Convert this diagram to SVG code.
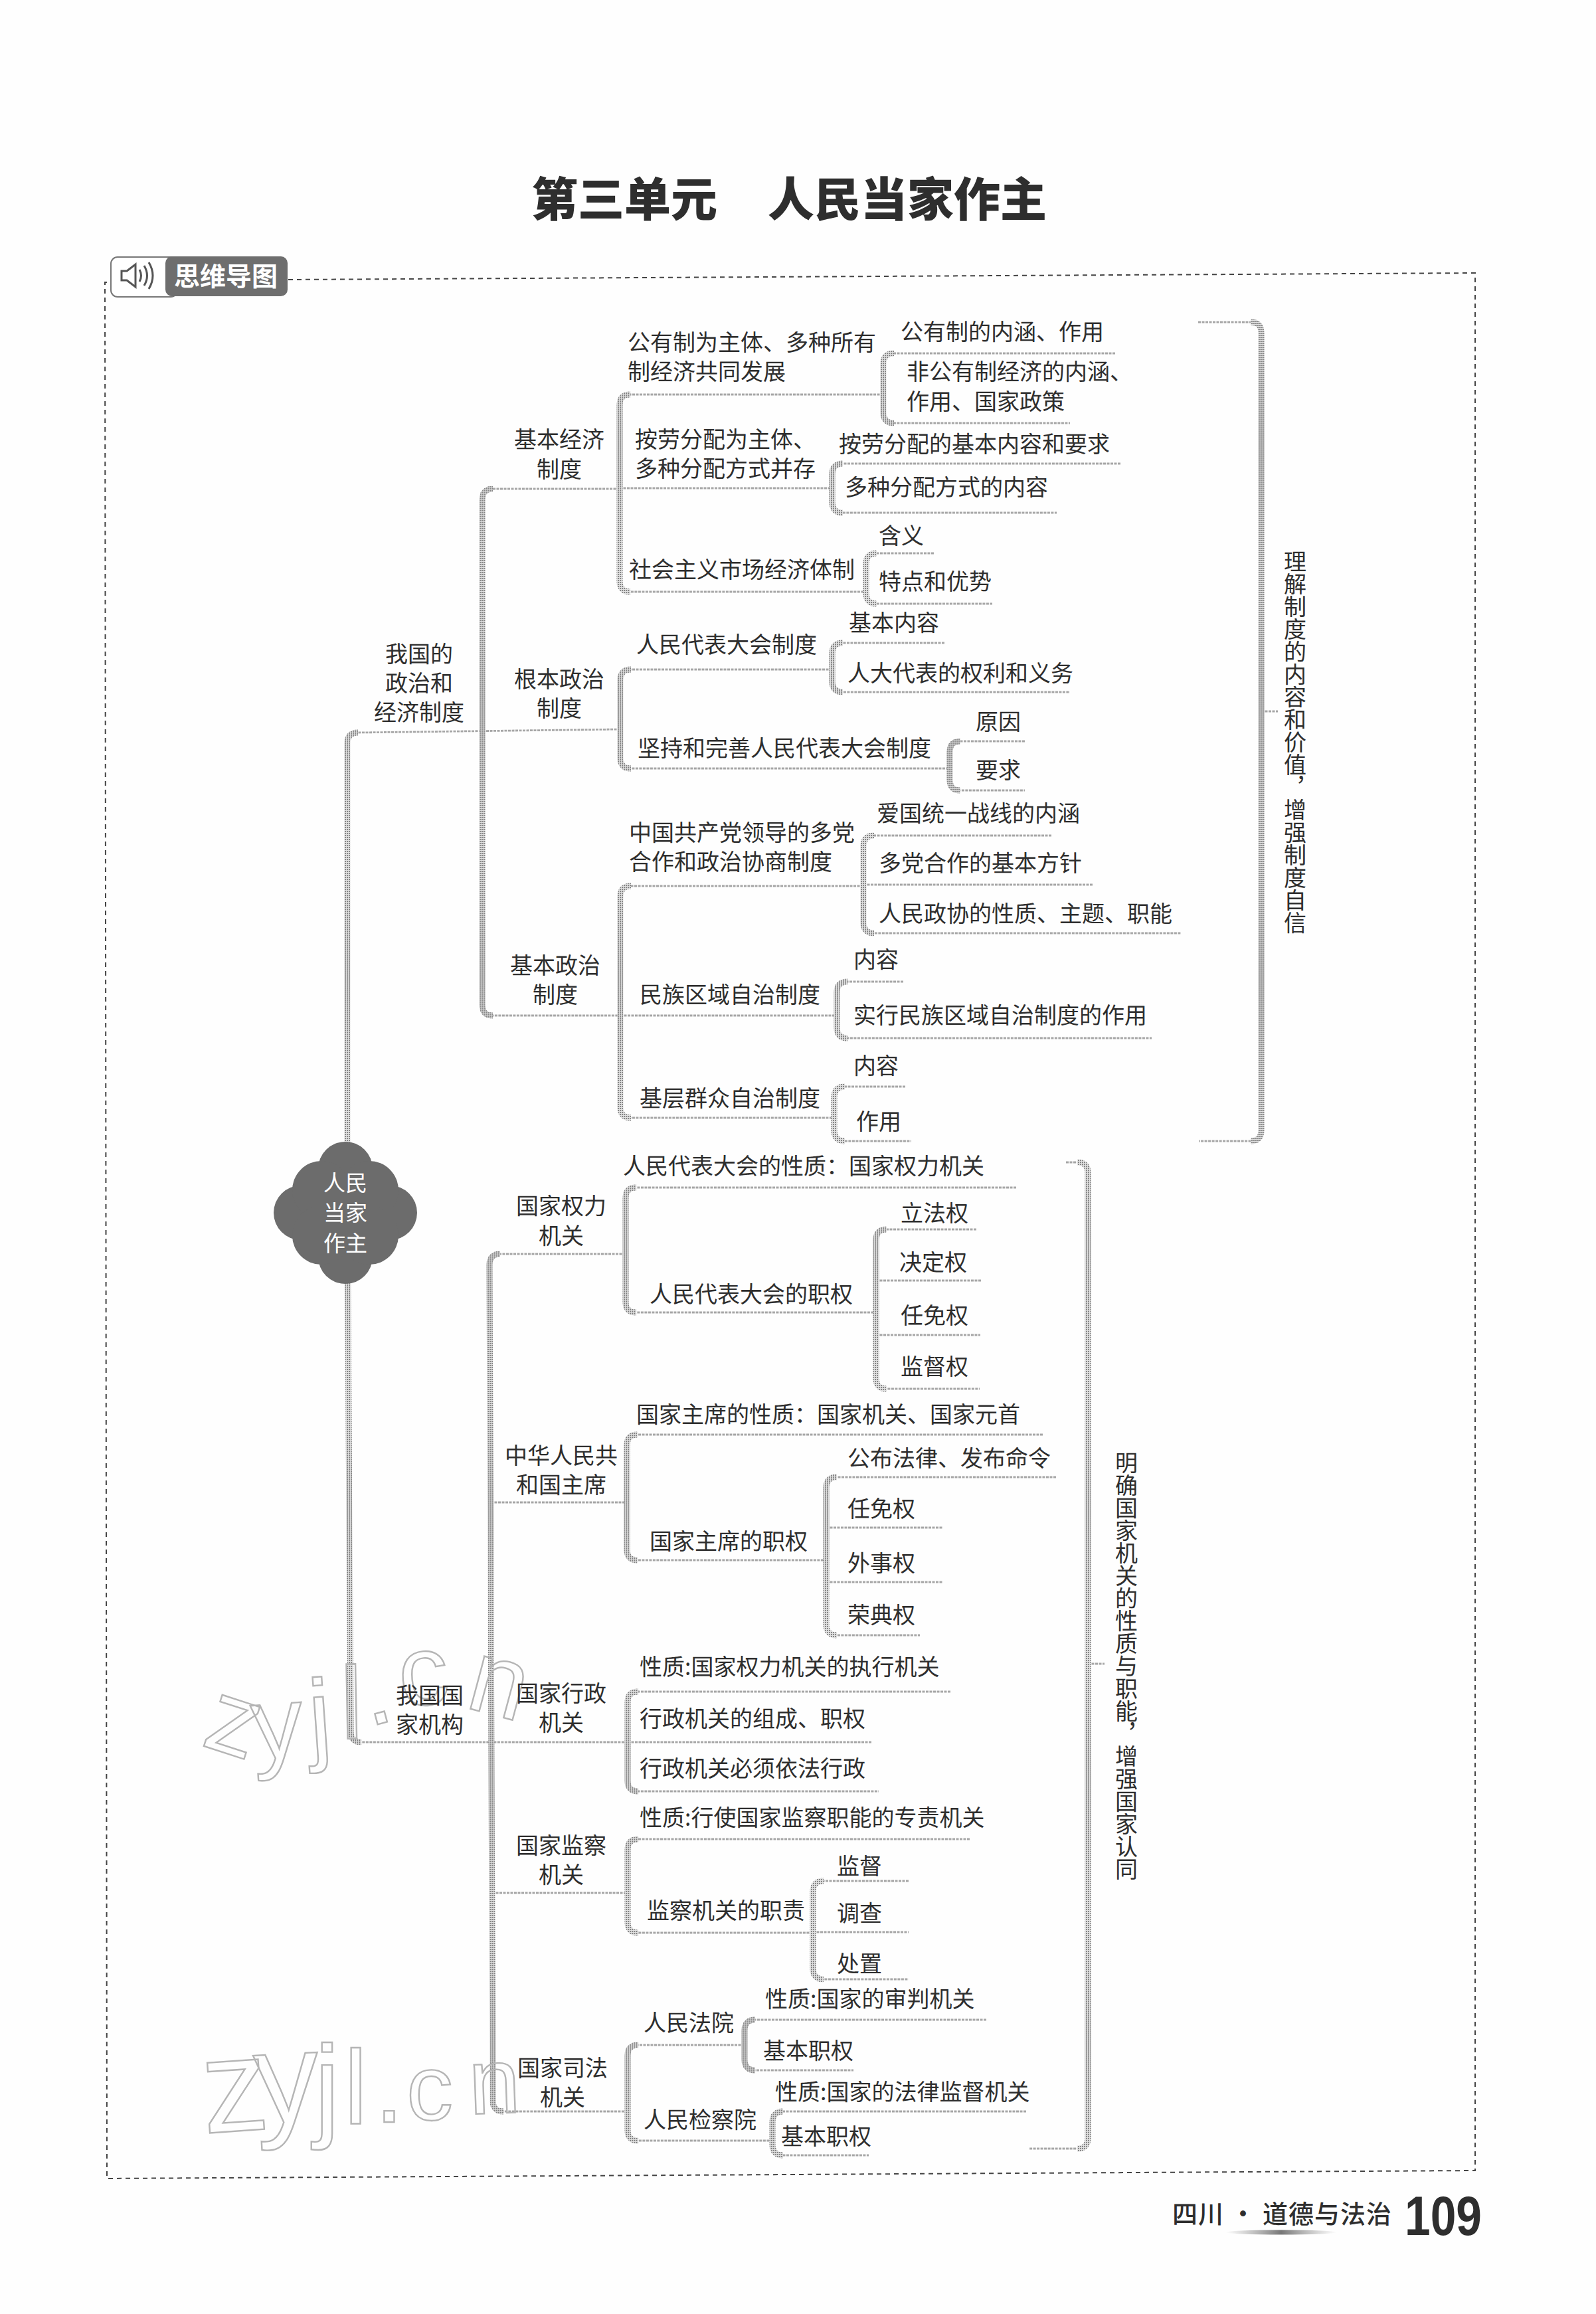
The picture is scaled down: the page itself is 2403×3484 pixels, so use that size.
<svg xmlns="http://www.w3.org/2000/svg" width="2403" height="3484" viewBox="0 0 2403 3484">
<style>
text{font-family:"Noto Sans CJK SC","Noto Sans",sans-serif;fill:#2e2e2e}
.t{font-size:34px}
.c{font-size:34px;text-anchor:middle}
.v{font-size:34px;writing-mode:vertical-rl}
.w{font-size:33px;fill:#fff;text-anchor:middle}
.thin{fill:none;stroke:#a6a6a6;stroke-width:2.8;stroke-dasharray:4 1.5}
.thick{fill:none;stroke:url(#ht);stroke-width:9}
.frame{fill:none;stroke:#444;stroke-width:2;stroke-dasharray:7 6}
text.wm{font-family:"Liberation Sans",sans-serif;fill:none;stroke:#b5b5b5;stroke-width:2.4}
</style>
<defs>
<pattern id="ht" width="3" height="3" patternUnits="userSpaceOnUse"><rect width="3" height="3" fill="#e0e0e0"/><rect width="2" height="2" fill="#888"/></pattern>
<linearGradient id="sw"><stop offset="0" stop-color="#999" stop-opacity="0"/><stop offset=".5" stop-color="#777"/><stop offset="1" stop-color="#999" stop-opacity="0"/></linearGradient>
</defs>
<rect width="2403" height="3484" fill="#fefefe"/>

<g id="frame">
<path class="frame" d="M434 421 L2221 411 V3268 L161 3280 L158 425 H167"/>
</g>

<g id="connectors">
<!-- trunk -->
<path class="thin" d="M934 1098 L539 1103 Q523 1103 523 1119 V1826 L528 2607 Q528 2623 544 2623 H945"/>
<path class="thick" d="M539 1103 Q523 1103 523 1119 V1826 L528 2607 Q528 2623 544 2623"/>
<!-- upper level 2 -->
<path class="thin" d="M933 736 H742 Q726 736 726 752 V1513 Q726 1529 742 1529 H934"/>
<path class="thick" d="M742 736 Q726 736 726 752 V1513 Q726 1529 742 1529"/>
<!-- A -->
<path class="thin" d="M1330 594 H949 Q933 594 933 610 V875 Q933 891 949 891 H1304 M933 735 H1253"/>
<path class="thick" d="M949 594 Q933 594 933 610 V875 Q933 891 949 891"/>
<path class="thin" d="M1679 532 H1346 Q1330 532 1330 548 V621 Q1330 637 1346 637 H1611"/>
<path class="thick" d="M1346 532 Q1330 532 1330 548 V621 Q1330 637 1346 637"/>
<path class="thin" d="M1687 698 H1269 Q1253 698 1253 714 V756 Q1253 772 1269 772 H1591"/>
<path class="thick" d="M1269 698 Q1253 698 1253 714 V756 Q1253 772 1269 772"/>
<path class="thin" d="M1406 833 H1320 Q1304 833 1304 849 V893 Q1304 909 1320 909 H1494"/>
<path class="thick" d="M1320 833 Q1304 833 1304 849 V893 Q1304 909 1320 909"/>
<!-- D -->
<path class="thin" d="M1253 1008 H950 Q934 1008 934 1024 V1141 Q934 1157 950 1157 H1430"/>
<path class="thick" d="M950 1008 Q934 1008 934 1024 V1141 Q934 1157 950 1157"/>
<path class="thin" d="M1422 968 H1269 Q1253 968 1253 984 V1026 Q1253 1042 1269 1042 H1611"/>
<path class="thick" d="M1269 968 Q1253 968 1253 984 V1026 Q1253 1042 1269 1042"/>
<path class="thin" d="M1543 1116 H1446 Q1430 1116 1430 1132 V1174 Q1430 1190 1446 1190 H1543"/>
<path class="thick" d="M1446 1116 Q1430 1116 1430 1132 V1174 Q1430 1190 1446 1190"/>
<!-- E -->
<path class="thin" d="M1300 1334 H950 Q934 1334 934 1350 V1667 Q934 1683 950 1683 H1256 M934 1529 H1260"/>
<path class="thick" d="M950 1334 Q934 1334 934 1350 V1667 Q934 1683 950 1683"/>
<path class="thin" d="M1583 1258 H1316 Q1300 1258 1300 1274 V1389 Q1300 1405 1316 1405 H1778 M1300 1332 H1645"/>
<path class="thick" d="M1316 1258 Q1300 1258 1300 1274 V1389 Q1300 1405 1316 1405"/>
<path class="thin" d="M1360 1478 H1276 Q1260 1478 1260 1494 V1547 Q1260 1563 1276 1563 H1734"/>
<path class="thick" d="M1276 1478 Q1260 1478 1260 1494 V1547 Q1260 1563 1276 1563"/>
<path class="thin" d="M1363 1636 H1272 Q1256 1636 1256 1652 V1702 Q1256 1718 1272 1718 H1372"/>
<path class="thick" d="M1272 1636 Q1256 1636 1256 1652 V1702 Q1256 1718 1272 1718"/>
<!-- right bracket 1 -->
<path class="thin" d="M1804 485 H1883 Q1899 485 1899 501 V1702 Q1899 1718 1883 1718 H1805 M1899 1071 H1924"/>
<path class="thick" d="M1883 485 Q1899 485 1899 501 V1702 Q1899 1718 1883 1718"/>
<!-- lower level 2 -->
<path class="thin" d="M942 1888 H753 Q737 1888 737 1904 L742 3163 Q742 3179 758 3179 H945 M739 2262 H944 M741 2850 H945"/>
<path class="thick" d="M753 1888 Q737 1888 737 1904 L742 3163 Q742 3179 758 3179"/>
<!-- F -->
<path class="thin" d="M1530 1788 H958 Q942 1788 942 1804 V1960 Q942 1976 958 1976 H1319"/>
<path class="thick" d="M958 1788 Q942 1788 942 1804 V1960 Q942 1976 958 1976"/>
<path class="thin" d="M1470 1851 H1335 Q1319 1851 1319 1867 V2075 Q1319 2091 1335 2091 H1475 M1319 1928 H1478 M1319 2010 H1476"/>
<path class="thick" d="M1335 1851 Q1319 1851 1319 1867 V2075 Q1319 2091 1335 2091"/>
<!-- G -->
<path class="thin" d="M1570 2160 H960 Q944 2160 944 2176 V2333 Q944 2349 960 2349 H1244"/>
<path class="thick" d="M960 2160 Q944 2160 944 2176 V2333 Q944 2349 960 2349"/>
<path class="thin" d="M1590 2224 H1260 Q1244 2224 1244 2240 V2446 Q1244 2462 1260 2462 H1385 M1244 2300 H1420 M1244 2382 H1420"/>
<path class="thick" d="M1260 2224 Q1244 2224 1244 2240 V2446 Q1244 2462 1260 2462"/>
<!-- H -->
<path class="thin" d="M1431 2547 H961 Q945 2547 945 2563 V2681 Q945 2697 961 2697 H1323 M945 2623 H1312"/>
<path class="thick" d="M961 2547 Q945 2547 945 2563 V2681 Q945 2697 961 2697"/>
<!-- I -->
<path class="thin" d="M1460 2769 H961 Q945 2769 945 2785 V2894 Q945 2910 961 2910 H1224"/>
<path class="thick" d="M961 2769 Q945 2769 945 2785 V2894 Q945 2910 961 2910"/>
<path class="thin" d="M1368 2832 H1240 Q1224 2832 1224 2848 V2964 Q1224 2980 1240 2980 H1368 M1224 2909 H1368"/>
<path class="thick" d="M1240 2832 Q1224 2832 1224 2848 V2964 Q1224 2980 1240 2980"/>
<!-- J -->
<path class="thin" d="M1121 3079 H961 Q945 3079 945 3095 V3207 Q945 3223 961 3223 H1163"/>
<path class="thick" d="M961 3079 Q945 3079 945 3095 V3207 Q945 3223 961 3223"/>
<path class="thin" d="M1485 3041 H1137 Q1121 3041 1121 3057 V3101 Q1121 3117 1137 3117 H1285"/>
<path class="thick" d="M1137 3041 Q1121 3041 1121 3057 V3101 Q1121 3117 1137 3117"/>
<path class="thin" d="M1545 3179 H1179 Q1163 3179 1163 3195 V3229 Q1163 3245 1179 3245 H1308"/>
<path class="thick" d="M1179 3179 Q1163 3179 1163 3195 V3229 Q1163 3245 1179 3245"/>
<!-- right bracket 2 -->
<path class="thin" d="M1605 1750 H1622 Q1638 1750 1638 1766 V3219 Q1638 3235 1622 3235 H1549 M1638 2505 H1663"/>
<path class="thick" d="M1622 1750 Q1638 1750 1638 1766 V3219 Q1638 3235 1622 3235"/>
</g>

<g id="watermark">
<text class="wm" font-size="155"><tspan x="301" y="2627" rotate="18">z</tspan><tspan x="382" y="2650" rotate="-4">y</tspan><tspan x="468" y="2638" rotate="-4">j</tspan><tspan x="513" y="2618" rotate="-1">l</tspan><tspan x="555" y="2600" rotate="-15">.</tspan><tspan x="604" y="2570" rotate="-5" font-size="150">c</tspan><tspan x="698" y="2570" rotate="15">n</tspan></text>
<text class="wm" font-size="158"><tspan x="308" y="3212" rotate="-4" font-size="200">z</tspan><tspan x="386" y="3198" rotate="-3" font-size="195">y</tspan><tspan x="473" y="3201" font-size="175">j</tspan><tspan x="518" y="3197">l</tspan><tspan x="564" y="3195">.</tspan><tspan x="612" y="3192" font-size="140">c</tspan><tspan x="707" y="3183" rotate="-2" font-size="140">n</tspan></text>
</g>

<g id="title"><text x="800" y="326" font-size="70" font-weight="900">第三单元</text><text x="1156" y="326" font-size="70" font-weight="900">人民当家作主</text></g>

<g id="tag">
<rect x="167" y="387" width="100" height="60" rx="10" fill="#fff" stroke="#777" stroke-width="2"/>
<rect x="249" y="386" width="184" height="60" rx="10" fill="#6e6e6e"/>
<path d="M183 408 h8 l13 -10 v34 l-13 -10 h-8 z" fill="#fff" stroke="#555" stroke-width="3"/>
<path d="M210 406 q5 9 0 18 M217 400 q9 15 0 30 M224 395 q12 20 0 40" fill="none" stroke="#555" stroke-width="3"/>
<text x="262" y="430" font-size="39" font-weight="700" style="fill:#fff">思维导图</text>
</g>

<g id="root">
<g fill="#6c6c6c"><circle cx="520" cy="1760" r="41"/><circle cx="520" cy="1892" r="41"/><circle cx="453" cy="1826" r="41"/><circle cx="587" cy="1826" r="41"/><circle cx="484" cy="1792" r="44"/><circle cx="556" cy="1792" r="44"/><circle cx="484" cy="1860" r="44"/><circle cx="556" cy="1860" r="44"/><rect x="470" y="1770" width="100" height="112"/></g>
<text class="w" x="520" y="1793">人民</text><text class="w" x="520" y="1838">当家</text><text class="w" x="520" y="1884">作主</text>
</g>

<g id="n1"><text class="c" x="631" y="997">我国的</text><text class="c" x="631" y="1041">政治和</text><text class="c" x="631" y="1085">经济制度</text></g>
<g id="n2"><text class="c" x="842" y="674">基本经济</text><text class="c" x="842" y="719">制度</text></g>
<g id="n3"><text class="t" x="945" y="528">公有制为主体、多种所有</text><text class="t" x="945" y="572">制经济共同发展</text></g>
<g id="n4"><text class="t" x="1356" y="512">公有制的内涵、作用</text></g>
<g id="n5"><text class="t" x="1365" y="572">非公有制经济的内涵、</text><text class="t" x="1365" y="617">作用、国家政策</text></g>
<g id="n6"><text class="t" x="956" y="674">按劳分配为主体、</text><text class="t" x="956" y="718">多种分配方式并存</text></g>
<g id="n7"><text class="t" x="1263" y="681">按劳分配的基本内容和要求</text></g>
<g id="n8"><text class="t" x="1272" y="746">多种分配方式的内容</text></g>
<g id="n9"><text class="t" x="1323" y="819">含义</text></g>
<g id="n10"><text class="t" x="1323" y="888">特点和优势</text></g>
<g id="n11"><text class="t" x="947" y="870">社会主义市场经济体制</text></g>
<g id="n12"><text class="c" x="842" y="1035">根本政治</text><text class="c" x="842" y="1079">制度</text></g>
<g id="n13"><text class="t" x="958" y="983">人民代表大会制度</text></g>
<g id="n14"><text class="t" x="1278" y="950">基本内容</text></g>
<g id="n15"><text class="t" x="1276" y="1026">人大代表的权利和义务</text></g>
<g id="n16"><text class="t" x="960" y="1139">坚持和完善人民代表大会制度</text></g>
<g id="n17"><text class="t" x="1469" y="1099">原因</text></g>
<g id="n18"><text class="t" x="1469" y="1172">要求</text></g>
<g id="n19"><text class="t" x="947" y="1266">中国共产党领导的多党</text><text class="t" x="947" y="1310">合作和政治协商制度</text></g>
<g id="n20"><text class="t" x="1320" y="1237">爱国统一战线的内涵</text></g>
<g id="n21"><text class="t" x="1323" y="1312">多党合作的基本方针</text></g>
<g id="n22"><text class="t" x="1323" y="1388">人民政协的性质、主题、职能</text></g>
<g id="n23"><text class="c" x="836" y="1466">基本政治</text><text class="c" x="836" y="1510">制度</text></g>
<g id="n24"><text class="t" x="963" y="1510">民族区域自治制度</text></g>
<g id="n25"><text class="t" x="1285" y="1457">内容</text></g>
<g id="n26"><text class="t" x="1285" y="1541">实行民族区域自治制度的作用</text></g>
<g id="n27"><text class="t" x="963" y="1666">基层群众自治制度</text></g>
<g id="n28"><text class="t" x="1285" y="1617">内容</text></g>
<g id="n29"><text class="t" x="1289" y="1701">作用</text></g>
<g id="n30"><text class="v" x="1950" y="828">理解制度的内容和价值，增强制度自信</text></g>
<g id="n31"><text class="t" x="938" y="1768">人民代表大会的性质：国家权力机关</text></g>
<g id="n32"><text class="c" x="845" y="1828">国家权力</text><text class="c" x="845" y="1873">机关</text></g>
<g id="n33"><text class="t" x="978" y="1961">人民代表大会的职权</text></g>
<g id="n34"><text class="t" x="1356" y="1839">立法权</text></g>
<g id="n35"><text class="t" x="1354" y="1913">决定权</text></g>
<g id="n36"><text class="t" x="1356" y="1993">任免权</text></g>
<g id="n37"><text class="t" x="1356" y="2070">监督权</text></g>
<g id="n38"><text class="t" x="958" y="2142">国家主席的性质：国家机关、国家元首</text></g>
<g id="n39"><text class="c" x="845" y="2204">中华人民共</text><text class="c" x="845" y="2248">和国主席</text></g>
<g id="n40"><text class="t" x="1276" y="2208">公布法律、发布命令</text></g>
<g id="n41"><text class="t" x="1276" y="2284">任免权</text></g>
<g id="n42"><text class="t" x="1276" y="2366">外事权</text></g>
<g id="n43"><text class="t" x="1276" y="2444">荣典权</text></g>
<g id="n44"><text class="t" x="978" y="2333">国家主席的职权</text></g>
<g id="n45"><text class="c" x="647" y="2565">我国国</text><text class="c" x="647" y="2609">家机构</text></g>
<g id="n46"><text class="c" x="845" y="2562">国家行政</text><text class="c" x="845" y="2606">机关</text></g>
<g id="n47"><text class="t" x="963" y="2522">性质:国家权力机关的执行机关</text></g>
<g id="n48"><text class="t" x="963" y="2600">行政机关的组成、职权</text></g>
<g id="n49"><text class="t" x="963" y="2675">行政机关必须依法行政</text></g>
<g id="n50"><text class="t" x="963" y="2749">性质:行使国家监察职能的专责机关</text></g>
<g id="n51"><text class="c" x="845" y="2791">国家监察</text><text class="c" x="845" y="2835">机关</text></g>
<g id="n52"><text class="t" x="974" y="2889">监察机关的职责</text></g>
<g id="n53"><text class="t" x="1260" y="2822">监督</text></g>
<g id="n54"><text class="t" x="1260" y="2893">调查</text></g>
<g id="n55"><text class="t" x="1260" y="2969">处置</text></g>
<g id="n56"><text class="t" x="1152" y="3022">性质:国家的审判机关</text></g>
<g id="n57"><text class="t" x="969" y="3058">人民法院</text></g>
<g id="n58"><text class="t" x="1149" y="3100">基本职权</text></g>
<g id="n59"><text class="t" x="1167" y="3162">性质:国家的法律监督机关</text></g>
<g id="n60"><text class="c" x="847" y="3126">国家司法</text><text class="c" x="847" y="3170">机关</text></g>
<g id="n61"><text class="t" x="969" y="3204">人民检察院</text></g>
<g id="n62"><text class="t" x="1176" y="3229">基本职权</text></g>
<g id="n63"><text class="v" x="1696" y="2185">明确国家机关的性质与职能，增强国家认同</text></g>

<g id="footer">
<ellipse cx="1929" cy="3361" rx="84" ry="3.5" fill="url(#sw)"/>
<text x="1765" y="3347" font-size="38" font-weight="500" textLength="330">四川 · 道德与法治</text>
<text x="2115" y="3365" font-size="84" font-weight="700" textLength="116" lengthAdjust="spacingAndGlyphs" style="font-family:'Liberation Sans',sans-serif">109</text>
</g>
</svg>
